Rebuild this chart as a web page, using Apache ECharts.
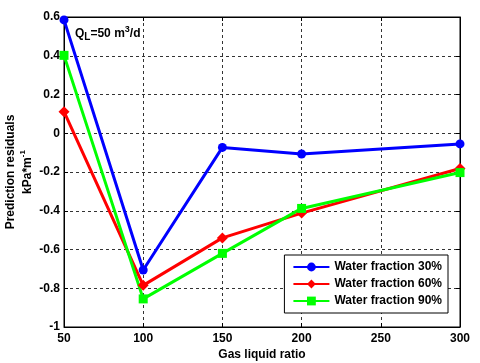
<!DOCTYPE html>
<html>
<head>
<meta charset="utf-8">
<script src="https://cdn.jsdelivr.net/npm/echarts@6/dist/echarts.min.js"></script>
<style>
  html, body { margin: 0; padding: 0; background: #fff; }
  #main { width: 480px; height: 363px; }
</style>
</head>
<body>
<div id="main"></div>
<script>
// gas liquid ratio
var gasRatio = [50, 100, 150, 200, 300];
// prediction residuals, kPa*m^-1
var wf30 = [0.585, -0.706, -0.073, -0.107, -0.055];
var wf60 = [0.111, -0.785, -0.54, -0.412, -0.182];
var wf90 = [0.402, -0.855, -0.62, -0.388, -0.203];
var seriesNames = ['Water fraction 30%', 'Water fraction 60%', 'Water fraction 90%'];

function pairs(ys) {
    return gasRatio.map(function (x, i) { return [x, ys[i]]; });
}

var font = 'Liberation Sans, Arial, sans-serif';
var dashGrid = { show: true, lineStyle: { color: '#333', type: [3, 3], width: 1 } };

var option = {
    animation: false,
    textStyle: { fontFamily: font },
    grid: {
        left: 64, right: 20, top: 17, bottom: 36,
        outerBoundsMode: 'none',
        show: true, borderColor: '#000', borderWidth: 1
    },
    graphic: [{
        type: 'text',
        left: 75,
        top: 25,
        style: {
            text: 'Q{sub|L}=50 m{sup|3}/d',
            font: 'bold 12px ' + font,
            fill: '#000',
            rich: {
                sub: { fontSize: 10, fontWeight: 'bold', verticalAlign: 'bottom', padding: [7, 0, 0, 0] },
                sup: { fontSize: 9, fontWeight: 'bold', verticalAlign: 'top', padding: [0, 0, 6, 0] }
            }
        }
    }],
    legend: {
        orient: 'vertical',
        right: 32,
        bottom: 50,
        backgroundColor: '#fff',
        borderColor: '#000',
        borderWidth: 1,
        padding: [6, 6, 6, 8],
        itemGap: 5,
        itemWidth: 36,
        itemHeight: 11,
        textStyle: { fontWeight: 'bold', fontSize: 12, color: '#000', fontFamily: font },
        data: seriesNames
    },
    xAxis: [{
        type: 'value',
        min: 50,
        max: 300,
        interval: 50,
        name: 'Gas liquid ratio',
        nameLocation: 'middle',
        nameGap: 22,
        nameMoveOverlap: false,
        nameTextStyle: { fontWeight: 'bold', fontSize: 12, color: '#000' },
        axisLine: { onZero: false, lineStyle: { color: '#000' } },
        axisTick: { inside: true, length: 4, lineStyle: { color: '#000' } },
        axisLabel: { fontWeight: 'bold', fontSize: 12, color: '#000', margin: 6 },
        splitLine: dashGrid
    }, {
        type: 'value',
        position: 'top',
        min: 50,
        max: 300,
        interval: 50,
        axisLine: { onZero: false, lineStyle: { color: '#000' } },
        axisTick: { inside: true, length: 4, lineStyle: { color: '#000' } },
        axisLabel: { show: false },
        splitLine: { show: false }
    }],
    yAxis: [{
        type: 'value',
        min: -1,
        max: 0.6,
        interval: 0.2,
        name: 'Prediction residuals\nkPa*m{sup|-1}',
        nameLocation: 'middle',
        nameRotate: 90,
        nameGap: 28,
        nameMoveOverlap: false,
        nameTextStyle: {
            fontWeight: 'bold', fontSize: 12, color: '#000', lineHeight: 17,
            rich: {
                sup: { fontSize: 8, fontWeight: 'bold', verticalAlign: 'top', padding: [0, 0, 6, 0] }
            }
        },
        axisLine: { onZero: false, lineStyle: { color: '#000' } },
        axisTick: { inside: true, length: 4, lineStyle: { color: '#000' } },
        axisLabel: {
            fontWeight: 'bold', fontSize: 12, color: '#000', margin: 4,
            formatter: function (v) { return String(Math.round(v * 10) / 10); }
        },
        splitLine: dashGrid
    }, {
        type: 'value',
        position: 'right',
        min: -1,
        max: 0.6,
        interval: 0.2,
        axisLine: { show: true, onZero: false, lineStyle: { color: '#000' } },
        axisTick: { show: true, inside: true, length: 4, lineStyle: { color: '#000' } },
        axisLabel: { show: false },
        splitLine: { show: false }
    }],
    series: [
        {
            name: seriesNames[0],
            type: 'line',
            data: pairs(wf30),
            color: '#0000ff',
            symbol: 'circle',
            symbolSize: 9,
            lineStyle: { width: 3 },
            clip: false
        },
        {
            name: seriesNames[1],
            type: 'line',
            data: pairs(wf60),
            color: '#ff0000',
            symbol: 'diamond',
            symbolSize: 11,
            lineStyle: { width: 3 },
            clip: false
        },
        {
            name: seriesNames[2],
            type: 'line',
            data: pairs(wf90),
            color: '#00ff00',
            symbol: 'rect',
            symbolSize: 9,
            lineStyle: { width: 3 },
            clip: false
        }
    ]
};

var myChart = echarts.init(document.getElementById('main'));
myChart.setOption(option);
</script>
</body>
</html>
